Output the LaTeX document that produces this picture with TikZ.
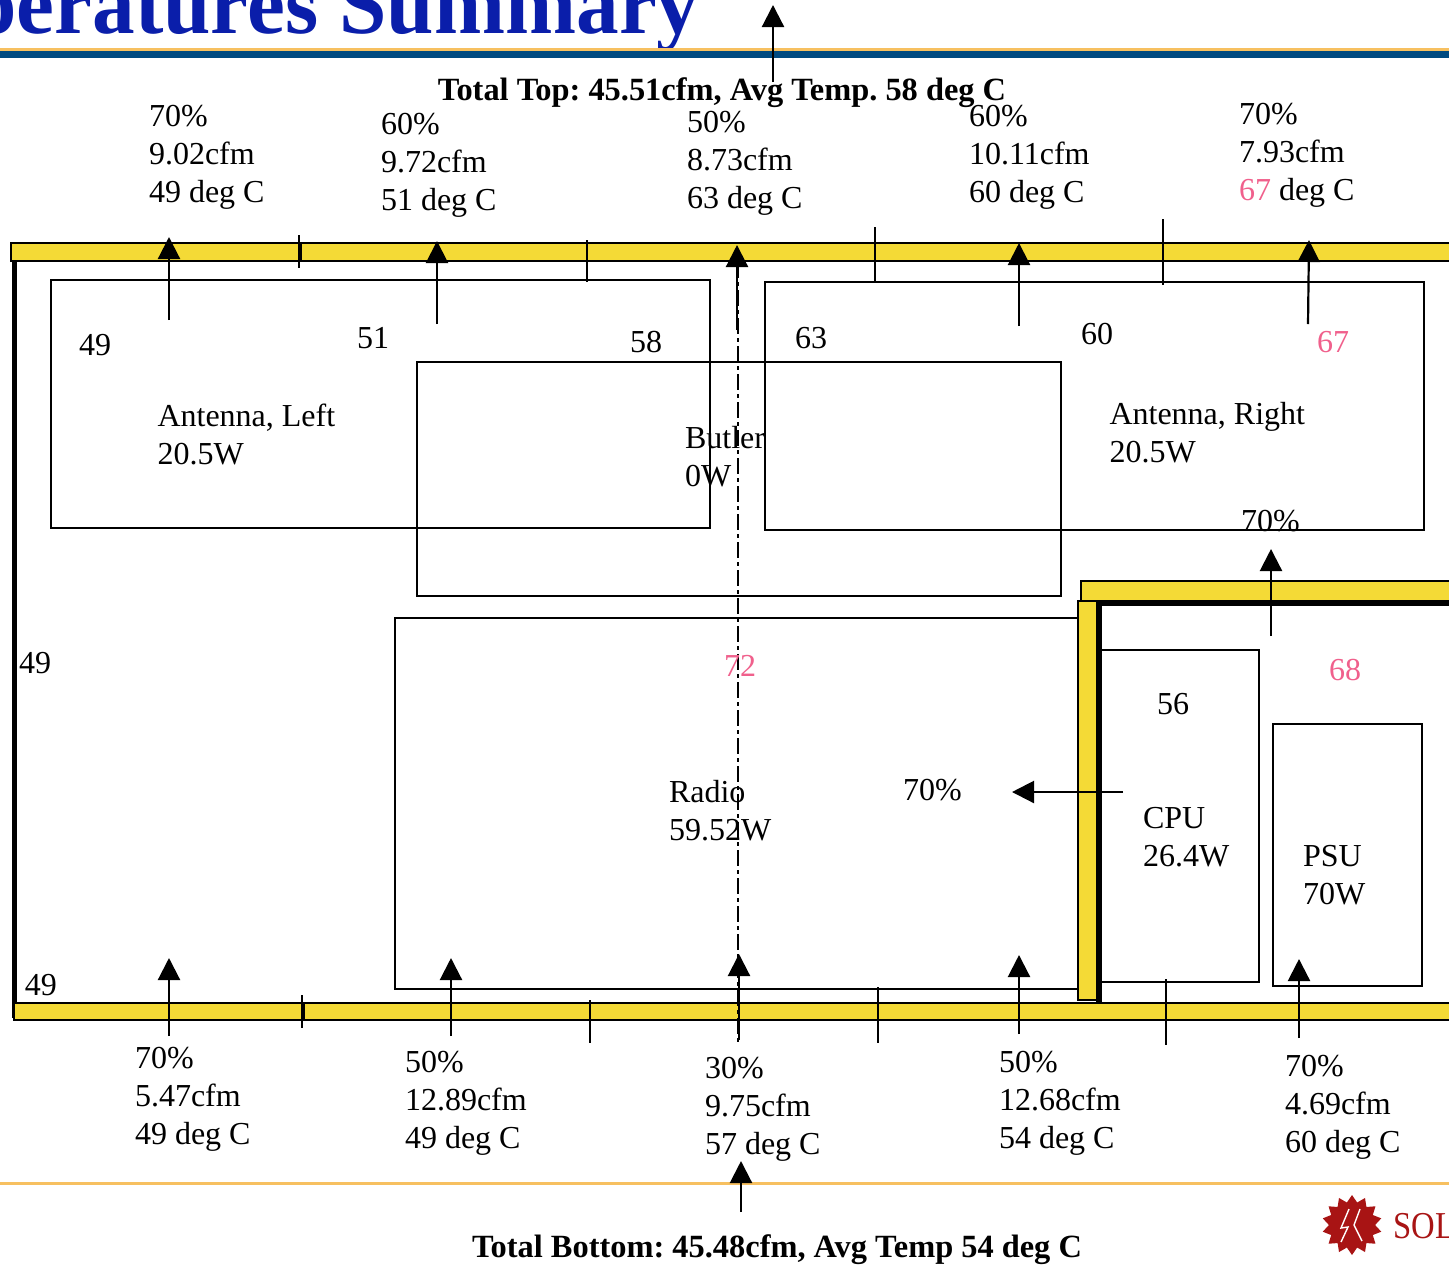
\documentclass[tikz,border=0pt]{standalone}
\usepackage{fontspec}
\setmainfont{Liberation Serif}
\usetikzlibrary{arrows.meta,shapes.geometric}
\definecolor{wallyellow}{HTML}{F4DA36}
\definecolor{titleblue}{HTML}{0A1EAA}
\definecolor{rulenavy}{HTML}{004A80}
\definecolor{ruleorange}{HTML}{F7C060}
\definecolor{hotpink}{HTML}{F0608C}
\definecolor{logored}{HTML}{A81414}
\tikzset{
    wall/.style={draw=black, line width=1pt, fill=wallyellow},
    box/.style={draw=black, line width=1pt},
    tick/.style={draw=black, line width=1.1pt},
    flow/.style={-{Triangle[width=11pt,length=11pt]}, line width=1.1pt},
    lbl/.style={anchor=north west, inner sep=0pt, outer sep=0pt, align=left,
        font=\fontsize{16pt}{19pt}\selectfont},
    hot/.style={lbl, text=hotpink},
    total/.style={anchor=center, inner sep=0pt, outer sep=0pt,
        font=\fontsize{16.2pt}{19pt}\selectfont\bfseries\frenchspacing},
}
\begin{document}
\begin{tikzpicture}[x=0.5pt, y=-0.5pt]
        \useasboundingbox (0,0) rectangle (1449,1264);

        % Title and header rules
        \node[anchor=base east, inner sep=0pt, text=titleblue, font=\fontsize{43.5pt}{50pt}\selectfont\bfseries] (title) at (700,33) {\scalebox{0.98}[1]{peratures Summary}};
        \fill[ruleorange] (0,48) rectangle (1449,51);
        \fill[rulenavy] (0,51) rectangle (1449,58);
        \fill[ruleorange] (0,1182) rectangle (1449,1185);

        % Left wall, then the yellow walls
        \draw[line width=2.5pt] (14.5,261) -- (14.5,1018);
        \draw[wall] (11,243) rectangle (299,261);
        \draw[wall] (301,243) rectangle (1460,261);
        \draw[wall] (14,1003) rectangle (302,1020);
        \draw[wall] (304,1003) rectangle (1460,1020);
        \draw[wall] (1081,581) rectangle (1460,601);
        \fill[black] (1097,600) rectangle (1460,606);
        \fill[black] (1096,601) rectangle (1102,1002);
        \draw[wall] (1078,601) rectangle (1097,1000);

        % Boxes
        \draw[box] (51,280) rectangle (710,528);
        \draw[box] (765,282) rectangle (1424,530);
        \draw[box] (417,362) rectangle (1061,596);
        \draw[box] (395,618) rectangle (1078,989);
        \draw[box] (1100,650) rectangle (1259,982);
        \draw[box] (1273,724) rectangle (1422,986);

        % Ticks through the walls
        \foreach \x/\ya/\yb in {299/235/268, 587/240/282, 875/227/281, 1163/219/285,
                302/995/1028, 590/1000/1043, 878/987/1043, 1166/979/1045} {
            \draw[tick] (\x,\ya) -- (\x,\yb);
        }

        % Centre line
        \draw[line width=1pt, dash pattern=on 8pt off 2pt on 2pt off 2pt] (738,262) -- (738,1045);

        % Airflow arrows
        \foreach \i/\xa/\ya/\xb/\yb in {1/169/320/169/237, 2/437/324/437/241, 3/737/330/737/245,
                4/1019/326/1019/243, 5/1308/324/1309/240, 6/773/82/773/5, 7/1271/636/1271/549,
                8/169/1036/169/958, 9/451/1036/451/958, 10/739/1040/739/954, 11/1019/1034/1019/955,
                12/1299/1038/1299/959, 13/741/1212/741/1161, 14/1123/792/1012/792} {
            \coordinate (from\i) at (\xa,\ya);
            \coordinate (to\i) at (\xb,\yb);
            \draw[flow] (from\i) -- (to\i);
        }

        % Totals
        \node[total] (totaltop) at (722,93) {Total Top: 45.51cfm, Avg Temp. 58 deg C};
        \node[total] (totalbottom) at (777,1250) {Total Bottom: 45.48cfm, Avg Temp 54 deg C};

        % Vent readings
        \node[lbl] (venta) at (149,105.5) {70\%\\9.02cfm\\49 deg C};
        \node[lbl] (ventb) at (381,113.5) {60\%\\9.72cfm\\51 deg C};
        \node[lbl] (ventc) at (687,111.5) {50\%\\8.73cfm\\63 deg C};
        \node[lbl] (ventd) at (969,105.5) {60\%\\10.11cfm\\60 deg C};
        \node[lbl] (vente) at (1239,103.5) {70\%\\7.93cfm\\\textcolor{hotpink}{67} deg C};
        \node[lbl] (ventf) at (135,1047.5) {70\%\\5.47cfm\\49 deg C};
        \node[lbl] (ventg) at (405,1051.5) {50\%\\12.89cfm\\49 deg C};
        \node[lbl] (venth) at (705,1057.5) {30\%\\9.75cfm\\57 deg C};
        \node[lbl] (venti) at (999,1051.5) {50\%\\12.68cfm\\54 deg C};
        \node[lbl] (ventj) at (1285,1055.5) {70\%\\4.69cfm\\60 deg C};

        % Component names
        \node[lbl] (antleft) at (157.5,404) {Antenna, Left\\20.5W};
        \node[lbl] (antright) at (1109.5,402) {Antenna, Right\\20.5W};
        \node[lbl] (butler) at (685,426) {Butler\\0W};
        \node[lbl] (radio) at (669,780) {Radio\\59.52W};
        \node[lbl] (cpu) at (1143,807) {CPU\\26.4W};
        \node[lbl] (psu) at (1303,845) {PSU\\70W};

        % Spot temperatures
        \foreach \n/\x/\y/\t in {a/79/334/49, b/357/327/51, c/630/331/58, d/795/327/63, e/1081/323/60,
                f/19/652/49, g/25/974/49, h/1157/693/56} {
            \node[lbl] (spot\n) at (\x,\y) {\t};
        }
        \foreach \n/\x/\y/\t in {i/1317/331/67, j/724/655/72, k/1329/659/68} {
            \node[hot] (spot\n) at (\x,\y) {\t};
        }
        \node[lbl] (pcta) at (903,779) {70\%};
        \node[lbl] (pctb) at (1241,510) {70\%};

        % Logo
        \node[star, star points=14, star point ratio=1.3, fill=logored, inner sep=0pt, minimum size=30pt] (logostar) at (1352,1225) {};
        \draw[white, line width=0.7pt] (1349,1209) -- (1341,1228) -- (1348,1227) -- (1341,1242);
        \draw[white, line width=0.7pt] (1360,1209) -- (1354,1225) -- (1362,1241);
        \node[anchor=base west, inner sep=0pt, text=logored, font=\fontsize{19pt}{22pt}\selectfont] (logotext) at (1393,1238) {\scalebox{0.86}[1]{SOL}};
    \end{tikzpicture}
\end{document}
